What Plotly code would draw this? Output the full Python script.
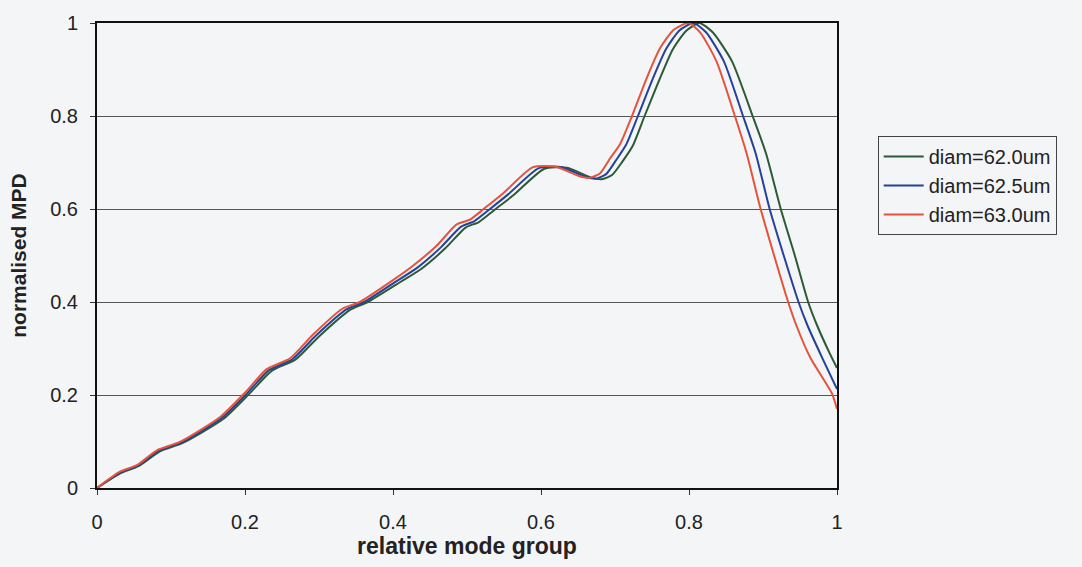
import plotly.graph_objects as go

# red: diam=63.0um
x_630 = [0, 0.031, 0.054, 0.081, 0.112, 0.166, 0.2, 0.229, 0.261, 0.292, 0.332, 0.355, 0.4, 0.427,
         0.459, 0.486, 0.504, 0.524, 0.549, 0.589, 0.62, 0.653, 0.666, 0.68, 0.693, 0.707, 0.723,
         0.743, 0.761, 0.779, 0.799, 0.815, 0.837, 0.862, 0.878, 0.896, 0.915, 0.934, 0.945, 0.964,
         0.993, 1.0]
y_630 = [0, 0.035, 0.049, 0.081, 0.099, 0.152, 0.205, 0.255, 0.279, 0.33, 0.386, 0.4, 0.447, 0.478,
         0.521, 0.567, 0.577, 0.602, 0.634, 0.69, 0.691, 0.67, 0.667, 0.677, 0.708, 0.74, 0.8,
         0.882, 0.946, 0.985, 1.0, 0.98, 0.918, 0.8, 0.719, 0.605, 0.5, 0.4, 0.35, 0.28,
         0.204, 0.17]

# blue: diam=62.5um
x_625 = [0, 0.031, 0.055, 0.083, 0.114, 0.168, 0.203, 0.232, 0.264, 0.296, 0.337, 0.361, 0.405, 0.433,
         0.465, 0.492, 0.51, 0.531, 0.556, 0.597, 0.628, 0.66, 0.674, 0.688, 0.701, 0.715, 0.731,
         0.751, 0.769, 0.787, 0.806, 0.823, 0.847, 0.873, 0.89, 0.909, 0.928, 0.948, 0.96, 0.98,
         1.0]
y_625 = [0, 0.033, 0.048, 0.08, 0.098, 0.15, 0.204, 0.253, 0.277, 0.328, 0.384, 0.4, 0.445, 0.474,
         0.518, 0.562, 0.574, 0.6, 0.632, 0.688, 0.69, 0.669, 0.665, 0.675, 0.704, 0.738, 0.8,
         0.88, 0.944, 0.984, 1.0, 0.98, 0.918, 0.8, 0.72, 0.6, 0.5, 0.4, 0.35, 0.28,
         0.213]

# green: diam=62.0um
x_620 = [0, 0.032, 0.056, 0.085, 0.116, 0.171, 0.206, 0.236, 0.268, 0.3, 0.341, 0.366, 0.41, 0.438,
         0.471, 0.498, 0.516, 0.537, 0.563, 0.604, 0.635, 0.667, 0.682, 0.696, 0.71, 0.724, 0.74,
         0.76, 0.778, 0.796, 0.814, 0.832, 0.858, 0.886, 0.904, 0.924, 0.943, 0.961, 0.973, 0.99,
         1.0]
y_620 = [0, 0.032, 0.047, 0.079, 0.097, 0.149, 0.203, 0.252, 0.276, 0.326, 0.382, 0.4, 0.443, 0.471,
         0.516, 0.56, 0.572, 0.598, 0.63, 0.686, 0.689, 0.668, 0.664, 0.673, 0.702, 0.736, 0.8,
         0.878, 0.943, 0.983, 1.0, 0.98, 0.918, 0.8, 0.72, 0.6, 0.5, 0.4, 0.35, 0.29,
         0.258]

series_names = ["diam=62.0um", "diam=62.5um", "diam=63.0um"]
series_colors = ["#2b5a36", "#25419a", "#e5533a"]
tick_vals = [0, 0.2, 0.4, 0.6, 0.8, 1]
tick_text = ["0", "0.2", "0.4", "0.6", "0.8", "1"]

fig = go.Figure()
for xs, ys, name, col in zip([x_620, x_625, x_630], [y_620, y_625, y_630], series_names, series_colors):
    fig.add_trace(go.Scatter(x=xs, y=ys, mode="lines", name=name,
                             line=dict(color=col, width=2, shape="spline", smoothing=0.6)))

bg = "#f4f5f7"
font_family = "Liberation Sans, Arial, sans-serif"
fig.update_layout(
    width=1082, height=567,
    margin=dict(l=97, r=245, t=15, b=79),
    paper_bgcolor=bg, plot_bgcolor=bg,
    font=dict(family=font_family, size=20, color="#222"),
    legend=dict(x=1.055, y=0.757, xanchor="left", yanchor="top",
                bordercolor="#444", borderwidth=1, bgcolor=bg,
                font=dict(size=20, color="#222"), tracegroupgap=0, itemwidth=40),
    showlegend=True,
)
fig.update_xaxes(range=[0, 1], tickvals=tick_vals, ticktext=tick_text,
                 showline=True, linecolor="#111", linewidth=2, mirror=True,
                 ticks="outside", ticklen=5, tickcolor="#333", showgrid=False, zeroline=False,
                 ticklabelstandoff=10,
                 title=dict(text="<b>relative mode group</b>", font=dict(size=23), standoff=6))
fig.update_yaxes(range=[0, 1], tickvals=tick_vals, ticktext=tick_text,
                 showline=True, linecolor="#111", linewidth=2, mirror=True,
                 ticks="outside", ticklen=5, tickcolor="#333", ticklabelstandoff=8,
                 showgrid=True, gridcolor="#555", gridwidth=1, zeroline=False,
                 title=dict(text="<b>normalised MPD</b>", font=dict(size=21), standoff=18))

fig.write_html("out.html", config={"displayModeBar": False},
               post_script="document.body.style.margin='0';document.body.style.background='%s';" % bg)
